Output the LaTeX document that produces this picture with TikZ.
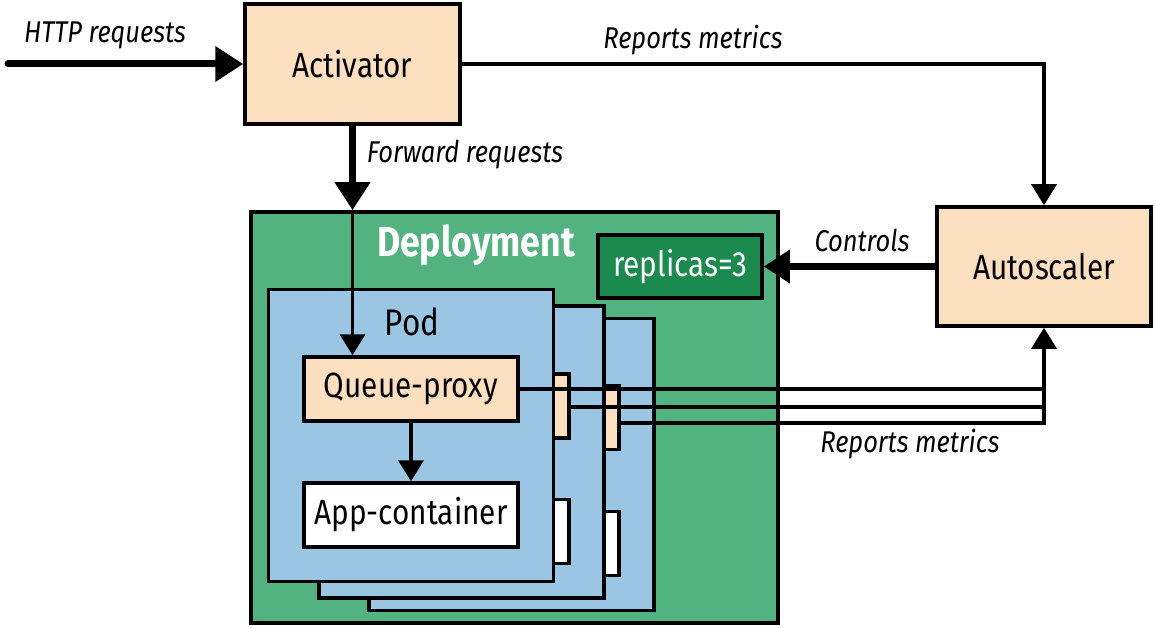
\documentclass[tikz,border=0pt]{standalone}
\usepackage{fontspec}
\setmainfont{Fira Sans}[FakeStretch=0.85]
\usetikzlibrary{arrows.meta}
\definecolor{peach}{RGB}{252,223,190}
\definecolor{depgreen}{RGB}{82,178,128}
\definecolor{darkgreen}{RGB}{27,138,78}
\definecolor{podblue}{RGB}{154,198,228}
\newcommand\lblfont{\fontsize{35}{40}\selectfont}
\newcommand\itlfont{\fontsize{30}{34}\selectfont\itshape}
\begin{document}
\begin{tikzpicture}[x=1pt,y=-1pt,
  blk/.style={draw=black,line width=3.5pt,inner sep=0pt,font=\lblfont},
  podbox/.style={blk,fill=podblue,minimum width=285,minimum height=292},
  qpbox/.style={blk,fill=peach,minimum width=214,minimum height=64},
  appbox/.style={blk,fill=white,minimum width=214,minimum height=64},
  lab/.style={font=\itlfont,inner sep=0pt},
  thick arrow/.style={line width=7pt,-{Triangle[length=28pt,width=34pt]}},
  thin arrow/.style={line width=3.5pt,-{Triangle[length=21pt,width=25pt]}},
  metric/.style={line width=3.5pt}]
\useasboundingbox (0,0) rectangle (1155,628);

% main boxes
\node[blk,fill=peach,minimum width=215,minimum height=120] (act) at (352.5,64) {Activator};
\node[blk,fill=peach,minimum width=214,minimum height=119] (auto) at (1044,266.5) {Autoscaler};
\node[blk,fill=depgreen,minimum width=527,minimum height=411] (dep) at (514.5,417.5) {};
\node[font=\fontsize{42}{46}\selectfont\bfseries,text=white,inner sep=0pt] (deplabel) at (476,245) {Deployment};
\node[blk,fill=darkgreen,text=white,minimum width=164,minimum height=63] (rep) at (680,266.5) {replicas=3};

% pod 3 (back)
\node[podbox] (pod3) at (511.5,464.5) {};
\node[qpbox] (qp3) at (512,417.5) {};
\node[appbox] (app3) at (512,543.5) {};
% pod 2
\node[podbox] (pod2) at (461.5,452) {};
\node[qpbox] (qp2) at (462,406) {};
\node[appbox] (app2) at (462,531.5) {};
% pod 1 (front)
\node[podbox] (pod1) at (411,435.5) {};
\node[font=\fontsize{37}{42}\selectfont,inner sep=0pt] (podlabel) at (412,322) {Pod};
\node[qpbox] (qp1) at (411,389) {Queue-proxy};
\node[appbox] (app1) at (411,515) {App-container};

% connectors
\coordinate (in) at (8,64);
\draw[thick arrow,line cap=round] (in) -- (act.west);
\node[lab] (httplab) at (105,35) {HTTP requests};

\draw[thick arrow] (act.south) -- (act.south |- dep.north);
\node[lab] (fwdlab) at (465,155) {Forward requests};
\draw[thin arrow] (act.south |- dep.north) -- (act.south |- qp1.north);

\draw[thin arrow] (qp1.south) -- (app1.north);

\draw[thin arrow] (act.east) -| (auto.north);
\node[lab] (replab1) at (693,40) {Reports metrics};

\draw[line width=7pt,-{Triangle[length=26pt,width=32pt]}] (auto.west) -- (rep.east);
\node[lab] (ctllab) at (862,240) {Controls};

\draw[metric] (qp1.east) -- (qp1.east -| auto.south);
\draw[metric] ([yshift=-1pt]qp2.east) -- ([yshift=-1pt]qp2.east -| auto.south);
\draw[thin arrow] ([yshift=-5.5pt]qp3.east) -| (auto.south);
\node[lab] (replab2) at (910,444) {Reports metrics};
\end{tikzpicture}
\end{document}
